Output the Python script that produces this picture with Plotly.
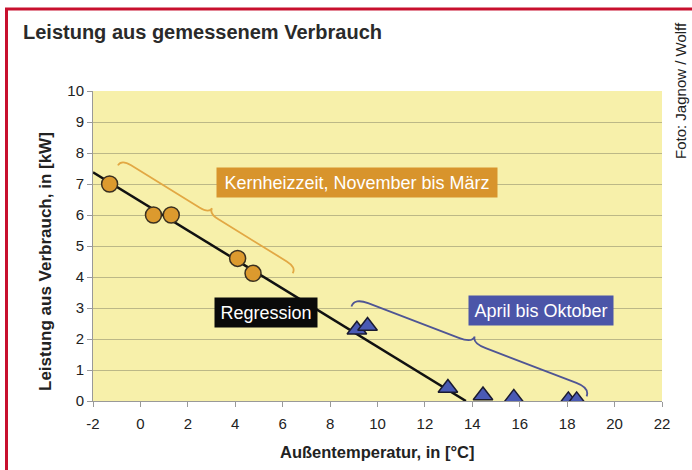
import plotly.graph_objects as go
import math

# ---- data ----
winter_temp = [-1.3, 0.55, 1.3, 4.1, 4.75]
winter_power = [7.0, 6.0, 6.0, 4.6, 4.12]
summer_temp = [9.13, 9.58, 12.97, 14.45, 15.75, 18.05, 18.4]
summer_power = [2.3, 2.42, 0.42, 0.18, 0.1, 0.02, 0.02]
regression_temp = [-2.0, 13.73]
regression_power = [7.38, 0.0]
x_ticks = list(range(-2, 23, 2))
x_tick_labels = [str(v) for v in x_ticks]
y_ticks = list(range(0, 11, 1))

title_text = "Leistung aus gemessenem Verbrauch"
credit_text = "Foto: Jagnow / Wolff"
x_title = "Außentemperatur, in [°C]"
y_title = "Leistung aus Verbrauch, in [kW]"
label_winter = "Kernheizzeit, November bis März"
label_summer = "April bis Oktober"
label_reg = "Regression"

# brace endpoints (data coords): start tip, end tip
brace_winter = [(-0.95, 7.6), (6.42, 4.12)]
brace_summer = [(8.9, 3.05), (18.82, 0.15)]

# ---- layout geometry ----
W, H = 692, 470
ML, MR, MT, MB = 93, 30, 91, 69
PW, PH = W - ML - MR, H - MT - MB
XMIN, XMAX, YMIN, YMAX = -2, 22, 0, 10
SX = PW / (XMAX - XMIN)
SY = PH / (YMAX - YMIN)


def px(xp):
    return (xp - ML) / PW


def py(yp):
    return (MT + PH - yp) / PH


def brace_path(p0, p1, h, cusp):
    ax, ay = (p0[0] - XMIN) * SX, -(p0[1] - YMIN) * SY
    bx, by = (p1[0] - XMIN) * SX, -(p1[1] - YMIN) * SY
    L = math.hypot(bx - ax, by - ay)
    dx, dy = (bx - ax) / L, (by - ay) / L
    nx, ny = dy, -dx  # away from the data points
    r = h * 1.6

    def P(u, v):
        sx_ = ax + dx * u + nx * v
        sy_ = ay + dy * u + ny * v
        return f"{sx_ / SX + XMIN:.4f},{-sy_ / SY + YMIN:.4f}"

    m = L / 2
    return (f"M {P(0, 0)} Q {P(0, h)} {P(r, h)} L {P(m - r, h)} "
            f"Q {P(m, h)} {P(m, h + cusp)} Q {P(m, h)} {P(m + r, h)} "
            f"L {P(L - r, h)} Q {P(L, h)} {P(L, 0)}")


fig = go.Figure()

fig.add_trace(go.Scatter(
    x=regression_temp, y=regression_power, mode="lines",
    line=dict(color="#111111", width=2.5), showlegend=False, hoverinfo="skip"))

fig.add_trace(go.Scatter(
    x=winter_temp, y=winter_power, mode="markers",
    marker=dict(symbol="circle", size=16, color="#dc9a2e",
                line=dict(color="#3a3020", width=1.5)),
    showlegend=False))

fig.add_trace(go.Scatter(
    x=summer_temp, y=summer_power, mode="markers",
    marker=dict(symbol="triangle-up", size=17, color="#4a5ab4",
                line=dict(color="#1a1a30", width=1.5)),
    showlegend=False))

shapes = [
    dict(type="path", xref="x", yref="y",
         path=brace_path(brace_winter[0], brace_winter[1], 7, 6),
         line=dict(color="#e2a844", width=1.8)),
    dict(type="path", xref="x", yref="y",
         path=brace_path(brace_summer[0], brace_summer[1], 9, 7),
         line=dict(color="#4f5594", width=1.8)),
    # red frame
    dict(type="line", xref="paper", yref="paper",
         x0=px(6.5), x1=px(6.5), y0=py(8), y1=py(475),
         line=dict(color="#c8102e", width=3)),
    dict(type="line", xref="paper", yref="paper",
         x0=px(5), x1=px(700), y0=py(9), y1=py(9),
         line=dict(color="#c8102e", width=3)),
]

font_main = "Liberation Sans, Arial, sans-serif"

annotations = [
    dict(text=f"<b>{title_text}</b>", xref="paper", yref="paper",
         x=px(21), y=py(32), xanchor="left", yanchor="middle", showarrow=False,
         font=dict(size=20, color="#2a2a2a", family=font_main)),
    dict(text=credit_text, xref="paper", yref="paper",
         x=px(680), y=py(91), xanchor="center", yanchor="middle", showarrow=False,
         textangle=-90, font=dict(size=15, color="#222222", family=font_main)),
    dict(text=f"<b>{y_title}</b>", xref="paper", yref="paper",
         x=px(45), y=py(262), xanchor="center", yanchor="middle", showarrow=False,
         textangle=-90, font=dict(size=17, color="#222222", family=font_main)),
    dict(text=f"<b>{x_title}</b>", xref="paper", yref="paper",
         x=px(377), y=py(452), xanchor="center", yanchor="middle", showarrow=False,
         font=dict(size=16.5, color="#222222", family=font_main)),
    dict(text=label_winter, xref="x", yref="y", x=9.14, y=7.05,
         showarrow=False, bgcolor="#d8942c", width=278, height=27, borderpad=1,
         font=dict(size=18, color="#ffffff", family=font_main)),
    dict(text=label_reg, xref="x", yref="y", x=5.3, y=2.85,
         showarrow=False, bgcolor="#0a0a0a", width=100, height=27, borderpad=1,
         font=dict(size=18, color="#ffffff", family=font_main)),
    dict(text=label_summer, xref="x", yref="y", x=16.9, y=2.92,
         showarrow=False, bgcolor="#4b55a8", width=142, height=27, borderpad=1,
         font=dict(size=18, color="#ffffff", family=font_main)),
]

fig.update_layout(
    width=W, height=H,
    margin=dict(l=ML, r=MR, t=MT, b=MB, pad=0),
    paper_bgcolor="#ffffff",
    plot_bgcolor="#f7f0aa",
    shapes=shapes,
    annotations=annotations,
    font=dict(family=font_main, size=15, color="#222222"),
    xaxis=dict(range=[XMIN, XMAX], tickvals=x_ticks, ticktext=x_tick_labels,
               ticks="outside", ticklen=5, ticklabelstandoff=4,
               tickcolor="#999999", showgrid=False, zeroline=False,
               showline=True, linecolor="#999999", linewidth=1,
               tickfont=dict(size=15, color="#222222")),
    yaxis=dict(range=[YMIN, YMAX], tickvals=y_ticks, ticks="outside", ticklen=5,
               tickcolor="#999999", showgrid=True, gridcolor="#bcb887", gridwidth=1,
               zeroline=False, showline=True, linecolor="#999999", linewidth=1,
               tickfont=dict(size=15, color="#222222")),
)

fig.write_html("out.html", config={"displayModeBar": False},
               post_script="document.body.style.margin='0';document.body.style.padding='0';")
